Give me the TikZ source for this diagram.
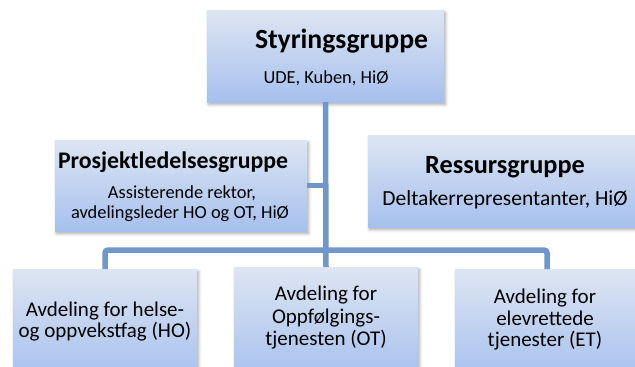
\documentclass[tikz,border=0pt]{standalone}
\usepackage{fontspec}
\setmainfont{Carlito}
\usetikzlibrary{shadows.blur}
\definecolor{linkc}{HTML}{7096CA}
\definecolor{boxtop}{HTML}{DDE5F2}
\definecolor{boxbot}{HTML}{A6C0EE}
\begin{document}
\begin{tikzpicture}[x=1pt,y=-1pt,
  grp/.style={draw=none, inner sep=0pt, outer sep=0pt, top color=boxtop, bottom color=boxbot,
    blur shadow={shadow xshift=1.5pt, shadow yshift=-2.5pt, shadow blur radius=3pt, shadow opacity=35}},
  link/.style={draw=linkc, line width=5.5pt},
  t/.style={anchor=base, inner sep=0pt, outer sep=0pt, text=black},
  hA/.style={t, font=\fontsize{27.7}{30}\selectfont\bfseries},
  hB/.style={t, font=\fontsize{23.8}{26}\selectfont\bfseries},
  hC/.style={t, font=\fontsize{26.3}{28}\selectfont\bfseries},
  s18/.style={t, font=\fontsize{18.4}{20}\selectfont},
  s21/.style={t, font=\fontsize{21}{23}\selectfont},
  s21b/.style={t, font=\fontsize{21.5}{23}\selectfont}]
\useasboundingbox (0,0) rectangle (635,367);
% boxes
\node[grp, minimum width=237pt, minimum height=92pt] (sty) at (325.5,56) {};
\node[grp, minimum width=252pt, minimum height=91pt] (pro) at (181,185.5) {};
\node[grp, minimum width=272pt, minimum height=92pt] (res) at (504,181) {};
\node[grp, minimum width=184pt, minimum height=111pt] (ho) at (105,324.5) {};
\node[grp, minimum width=184pt, minimum height=113pt] (ot) at (326,323.5) {};
\node[grp, minimum width=184pt, minimum height=111pt] (et) at (547,324.5) {};
% connectors
\coordinate (bar) at (326,250);
\draw[link] (sty.south) -- (ot.north);
\draw[link] (pro.east) -- (pro.east -| sty.south);
\draw[link, rounded corners=3pt] (ho.north) |- (bar) -| (et.north);
% texts
\node[hA, anchor=base west] (styT) at (255,48) {Styringsgruppe};
\node[s18] (styS) at (326,83) {UDE, Kuben, HiØ};
\node[hB, anchor=base west] (proT) at (58,168) {Prosjektledelsesgruppe};
\node[s18] (proS1) at (182,198) {Assisterende rektor,};
\node[s18] (proS2) at (180,218) {avdelingsleder HO og OT, HiØ};
\node[hC] (resT) at (505,173) {Ressursgruppe};
\node[s21b] (resS) at (505,205) {Deltakerrepresentanter, HiØ};
\node[s21] (hoA) at (105,316) {Avdeling for helse-};
\node[s21] (hoB) at (105,337) {og oppvekstfag (HO)};
\node[s21] (otA) at (326,300) {Avdeling for};
\node[s21] (otB) at (326,323) {Oppfølgings-};
\node[s21] (otC) at (326,345) {tjenesten (OT)};
\node[s21] (etA) at (545,303) {Avdeling for};
\node[s21] (etB) at (545,325) {elevrettede};
\node[s21] (etC) at (545,346) {tjenester (ET)};
\end{tikzpicture}
\end{document}
